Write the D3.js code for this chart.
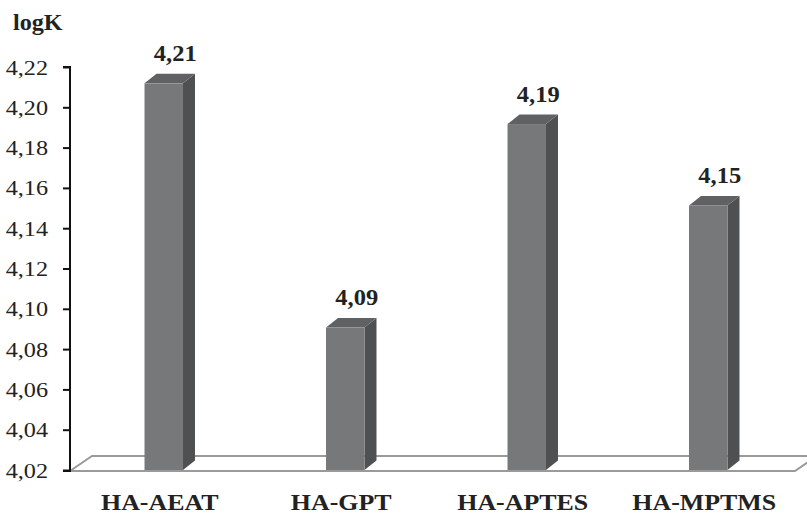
<!DOCTYPE html>
<html><head><meta charset="utf-8">
<script src="https://cdn.jsdelivr.net/npm/d3@7"></script>
<style>body{margin:0;background:#fff}</style>
</head><body>
<svg id="c" width="807" height="514"></svg>
<script>
const categories = ["HA-AEAT", "HA-GPT", "HA-APTES", "HA-MPTMS"];
const values = [4.21, 4.09, 4.19, 4.15];
const valueLabels = ["4,21", "4,09", "4,19", "4,15"];
const tickValues = [4.02, 4.04, 4.06, 4.08, 4.10, 4.12, 4.14, 4.16, 4.18, 4.20, 4.22];
const yTitle = "logK";

const svg = d3.select("#c");
const mLeft = 70, mRight = 799, mTop = 67, mBottom = 470;
const dx = 12, dy = -9.5;         // bar depth
const fdx = 22, fdy = -15;        // floor depth
const serif = "'Liberation Serif', 'Times New Roman', serif";

const y = d3.scaleLinear().domain([4.02, 4.22]).range([mBottom, mTop]);
// bars are drawn with a slight 3D perspective, so their scale is a bit taller
const yBar = d3.scaleLinear().domain([4.02, 4.22]).range([mBottom, mTop - 4]);
const x = d3.scaleBand().domain(categories).range([mLeft + 3, mRight]).paddingInner(0.788).paddingOuter(0.394);

// floor
const floorPts = [[mLeft, mBottom + 1], [mLeft + fdx, mBottom + 1 + fdy], [mRight + 18, mBottom + 1 + fdy], [mRight - 4, mBottom + 1]];
svg.append("polygon").attr("points", floorPts.map(p => p.join(",")).join(" "))
  .attr("fill", "none").attr("stroke", "#9a9a9a").attr("stroke-width", 2);

// axis
const axis = d3.axisLeft(y).tickValues(tickValues).tickSize(7).tickFormat(d => d3.format(".2f")(d).replace(".", ","));
const ag = svg.append("g").attr("transform", `translate(${mLeft},0)`).call(axis);
ag.select(".domain").attr("stroke", "#111").attr("stroke-width", 2).attr("d", `M-7,${mTop}H0V${mBottom + 1}H-7`);
ag.selectAll(".tick line").attr("stroke", "#111").attr("stroke-width", 2);
ag.selectAll(".tick text").attr("x", -22 / 1.1).attr("transform", "scale(1.1,1)").attr("fill", "#222")
  .style("font-family", serif).style("font-size", "22px");

function stretchedText(parent, tx, ty, sx, str, size, anchor) {
  return parent.append("text")
    .attr("transform", `translate(${tx},${ty}) scale(${sx},1)`)
    .attr("text-anchor", anchor).text(str)
    .style("font-family", serif).style("font-weight", "bold").style("font-size", size + "px").attr("fill", "#222");
}

stretchedText(svg, 13, 30, 1.05, yTitle, 23, "start");

// bars
const bw = x.bandwidth();
const bars = svg.append("g").selectAll("g").data(categories).join("g");
bars.each(function (c, i) {
  const g = d3.select(this);
  const x0 = x(c), x1 = x0 + bw, yt = yBar(values[i]), yb = mBottom;
  g.append("polygon").attr("fill", "#4f5052")
    .attr("points", [[x1, yb], [x1, yt], [x1 + dx, yt + dy], [x1 + dx, yb + dy]].map(p => p.join(",")).join(" "));
  g.append("polygon").attr("fill", "#606163")
    .attr("points", [[x0, yt], [x0 + dx, yt + dy], [x1 + dx, yt + dy], [x1, yt]].map(p => p.join(",")).join(" "));
  g.append("rect").attr("x", x0).attr("y", yt).attr("width", bw).attr("height", yb - yt).attr("fill", "#77787a");
  stretchedText(g, x0 + bw / 2 + 11.5, yt + dy - 13, 1.02, valueLabels[i], 24, "middle");
  stretchedText(g, x0 + bw / 2 - 4, 510, 1.08, c, 24, "middle");
});
</script>
</body></html>
